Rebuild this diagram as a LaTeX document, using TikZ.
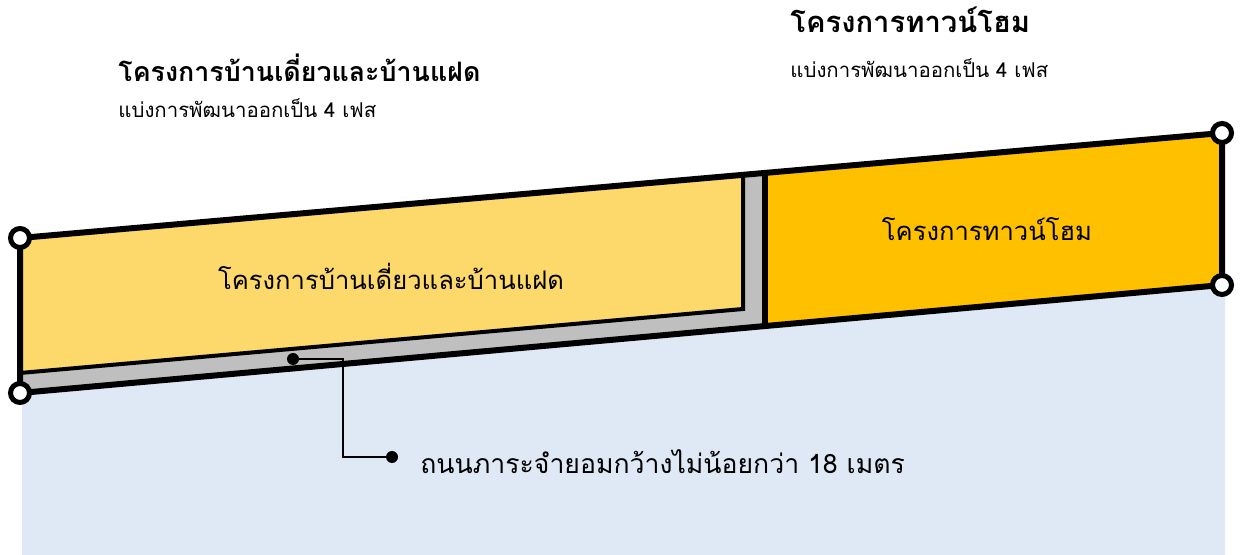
\documentclass[tikz,border=0pt]{standalone}
\usepackage{fontspec}
\newfontfamily\thai[Script=Thai]{Loma}
\definecolor{ylw}{HTML}{FDD86A}
\definecolor{org}{HTML}{FFC000}
\definecolor{gry}{HTML}{BFBFBF}
\definecolor{sky}{HTML}{DEE9F5}
\tikzset{
  corner/.style={circle,draw=black,fill=white,line width=2.5pt,minimum size=9.5pt,inner sep=0pt},
  blob/.style={circle,fill=black,minimum size=6pt,inner sep=0pt},
  lbl/.style={font=\thai\fontsize{12.8}{15}\selectfont,inner sep=0pt},
  head/.style={font=\thai\bfseries\fontsize{13.4}{16}\selectfont,anchor=west,inner sep=0pt},
  sub/.style={font=\thai\fontsize{10.2}{12}\selectfont,anchor=west,inner sep=0pt}
}
\begin{document}
\begin{tikzpicture}[x=0.5pt,y=-0.5pt]
\useasboundingbox (0,0) rectangle (1242,555);
% corners
\coordinate (A) at (20,238);
\coordinate (B) at (1222,133);
\coordinate (C) at (1222,285);
\coordinate (D) at (20,393);
\coordinate (T) at (765,172.9);
\coordinate (U) at (765,326.1);
% background blue
\fill[sky] (22,393) -- (1225,285) -- (1225,555) -- (22,555) -- cycle;
% left part gray + yellow
\fill[gry] (A) -- (T) -- (U) -- (D) -- cycle;
\filldraw[fill=ylw,draw=black,line width=2pt] (20,238) -- (743,174.8) -- (743,309) -- (20,373) -- cycle;
% right part
\fill[org] (T) -- (B) -- (C) -- (U) -- cycle;
\draw[line width=3pt] (T) -- (U);
\draw[line width=3pt,line join=round] (A) -- (B) -- (C) -- (D) -- cycle;
% corner markers
\node[corner] (cA) at (A) {};
\node[corner] (cB) at (B) {};
\node[corner] (cC) at (C) {};
\node[corner] (cD) at (D) {};
% labels in areas
\node[lbl] (l1) at (391,276) {โครงการบ้านเดี่ยวและบ้านแฝด};
\node[lbl] (l2) at (987,229) {โครงการทาวน์โฮม};
% callout
\node[blob] (p1) at (293,359) {};
\node[blob] (p2) at (392,457) {};
\coordinate (k1) at (343,359);
\coordinate (k2) at (343,457);
\draw[line width=1pt] (p1.center) -- (k1) -- (k2) -- (p2.center);
\node[lbl,anchor=west,font=\thai\fontsize{13.3}{15}\selectfont] (road) at (420,462) {ถนนภาระจำยอมกว้างไม่น้อยกว่า 18 เมตร};
% headers
\node[head] (h1) at (118,68) {โครงการบ้านเดี่ยวและบ้านแฝด};
\node[sub] (s1) at (118,108) {แบ่งการพัฒนาออกเป็น 4 เฟส};
\node[head,font=\thai\bfseries\fontsize{14.6}{17}\selectfont] (h2) at (790,20) {โครงการทาวน์โฮม};
\node[sub] (s2) at (790,68) {แบ่งการพัฒนาออกเป็น 4 เฟส};
\end{tikzpicture}
\end{document}
